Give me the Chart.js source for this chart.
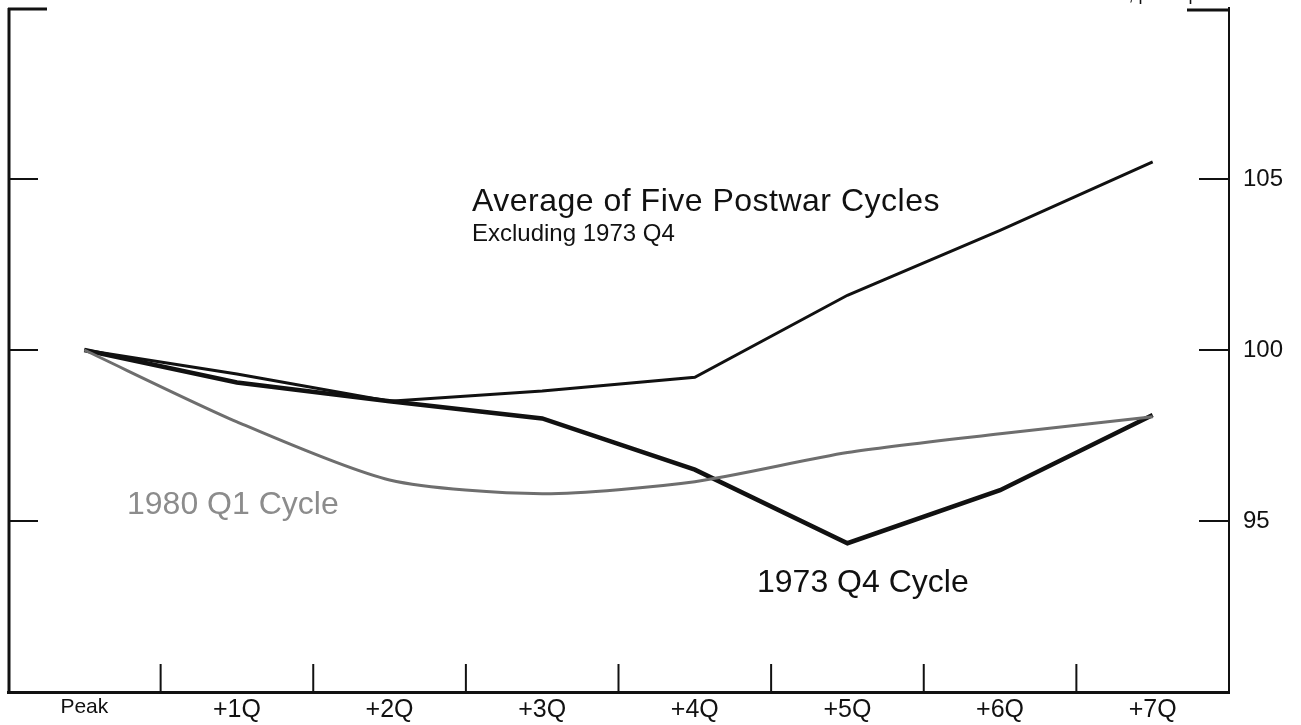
<!DOCTYPE html>
<html>
<head>
<meta charset="utf-8">
<script src="https://cdn.jsdelivr.net/npm/chart.js@4"></script>
<style>
  html, body { margin: 0; padding: 0; background: #fff; }
  #wrap { width: 1301px; height: 725px; }
</style>
</head>
<body>
<div id="wrap"><canvas id="cycleChart" width="1301" height="725"></canvas></div>
<script>
// Quarters after the cyclical peak
const xLabels = ['Peak', '+1Q', '+2Q', '+3Q', '+4Q', '+5Q', '+6Q', '+7Q'];

// Index, peak quarter = 100
const avgFive = [100, 99.3, 98.5, 98.8, 99.2, 101.6, 103.5, 105.5];
const cycle1973 = [100, 99.05, 98.5, 98.0, 96.5, 94.35, 95.9, 98.1];
const cycle1980 = [100, 97.9, 96.2, 95.8, 96.15, 97.0, 97.55, 98.05];

const yTicks = [95, 100, 105];

const FONT = '"Liberation Sans", Arial, Helvetica, sans-serif';

/**
 * Frame bits, inward ticks and the text labels
 */
const decorPlugin = {
  id: 'decor',
  afterDraw(chart) {
    const { ctx, chartArea: a, scales } = chart;
    ctx.save();
    ctx.strokeStyle = '#111';
    ctx.lineCap = 'butt';

    // left border
    ctx.lineWidth = 3;
    ctx.beginPath();
    ctx.moveTo(a.left + 1, a.top);
    ctx.lineTo(a.left + 1, a.bottom);
    ctx.stroke();

    // top corner pieces only
    ctx.beginPath();
    ctx.moveTo(a.left, a.top + 1);
    ctx.lineTo(a.left + 39, a.top + 1);
    ctx.moveTo(a.right - 42, a.top + 2);
    ctx.lineTo(a.right, a.top + 2);
    ctx.stroke();

    // y ticks pointing inward on both sides
    ctx.lineWidth = 2;
    yTicks.forEach(v => {
      const y = scales.y.getPixelForValue(v);
      ctx.beginPath();
      ctx.moveTo(a.left, y);
      ctx.lineTo(a.left + 30, y);
      ctx.moveTo(a.right - 30, y);
      ctx.lineTo(a.right, y);
      ctx.stroke();
    });

    // x ticks at the quarter boundaries
    for (let i = 1; i < xLabels.length; i++) {
      const x = (scales.x.getPixelForValue(i - 1) + scales.x.getPixelForValue(i)) / 2;
      ctx.beginPath();
      ctx.moveTo(x, a.bottom);
      ctx.lineTo(x, a.bottom - 28);
      ctx.stroke();
    }

    // labels
    ctx.fillStyle = '#111';
    ctx.textBaseline = 'alphabetic';
    ctx.textAlign = 'left';
    ctx.letterSpacing = '0.5px';
    ctx.font = `32px ${FONT}`;
    ctx.fillText('Average of Five Postwar Cycles', 472, 211);
    ctx.font = `24px ${FONT}`;
    ctx.letterSpacing = '0px';
    ctx.fillText('Excluding 1973 Q4', 472, 241);
    ctx.font = `32px ${FONT}`;
    ctx.fillText('1973 Q4 Cycle', 757, 592);
    ctx.fillStyle = '#8c8c8c';
    ctx.fillText('1980 Q1 Cycle', 127, 514);

    // note at top right, cut off by the page edge
    ctx.fillStyle = '#111';
    ctx.font = `18px ${FONT}`;
    ctx.textAlign = 'right';
    ctx.fillText('Index, peak quarter = 100', 1290, 0);
    ctx.restore();
  },
};

function initializeChart() {
  const ctx = document.getElementById('cycleChart');
  new Chart(ctx.getContext('2d'), {
    type: 'line',
    data: {
      labels: xLabels,
      datasets: [
        {
          label: '1980 Q1 Cycle',
          data: cycle1980,
          borderColor: '#6e6e6e',
          borderWidth: 3,
          tension: 0.25,
          pointRadius: 0,
        },
        {
          label: 'Average of Five Postwar Cycles',
          data: avgFive,
          borderColor: '#111',
          borderWidth: 3,
          tension: 0,
          pointRadius: 0,
        },
        {
          label: '1973 Q4 Cycle',
          data: cycle1973,
          borderColor: '#111',
          borderWidth: 4.5,
          tension: 0,
          pointRadius: 0,
        },
      ],
    },
    options: {
      responsive: false,
      animation: false,
      layout: {
        padding: { left: 8, top: 8, right: 0, bottom: 0 },
      },
      scales: {
        x: {
          offset: true,
          grid: { display: false, drawTicks: false },
          border: { display: true, color: '#111', width: 3 },
          ticks: {
            color: '#111',
            padding: 3,
            font: (c) => ({ family: FONT, size: c.index === 0 ? 21 : 25 }),
            maxRotation: 0,
            autoSkip: false,
          },
          afterFit(scale) {
            scale.height = 33;
            scale.paddingLeft = 0;
            scale.paddingRight = 0;
          },
        },
        y: {
          position: 'right',
          min: 90,
          max: 110,
          grid: { display: false, drawTicks: false },
          border: { display: true, color: '#111', width: 2 },
          ticks: {
            color: '#111',
            padding: 14,
            font: { family: FONT, size: 24 },
          },
          afterBuildTicks(scale) {
            scale.ticks = yTicks.map(v => ({ value: v }));
          },
          afterFit(scale) {
            scale.width = 72;
            scale.paddingTop = 0;
            scale.paddingBottom = 0;
          },
        },
      },
      plugins: {
        legend: { display: false },
        tooltip: { enabled: false },
      },
    },
    plugins: [decorPlugin],
  });
}

document.addEventListener('DOMContentLoaded', initializeChart);
</script>
</body>
</html>
